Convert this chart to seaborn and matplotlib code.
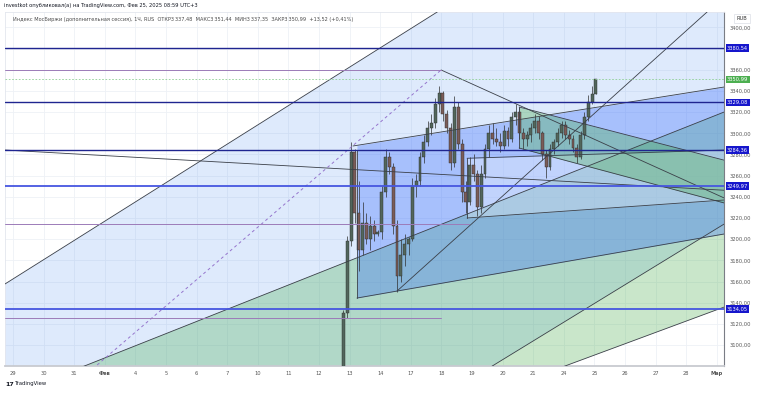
import numpy as np
import pandas as pd
import matplotlib
matplotlib.use("Agg")
import matplotlib.pyplot as plt
import matplotlib.transforms as mtransforms
import seaborn as sns

# ---------------------------
# Data
# ---------------------------
day_labels = ["29", "30", "31", "Фев", "4", "5", "6", "7", "10", "11", "12", "13",
              "14", "17", "18", "19", "20", "21", "24", "25", "26", "27", "28", "Мар"]

# bars every 3 hours-ish, time in trading-day index (0 = Jan 29)
bar_start = 10.8
bar_step = 0.125
bar_open = [3075, 3130, 3198, 3282, 3225, 3190, 3215, 3200, 3212, 3205,
            3207, 3245, 3278, 3268, 3212, 3165, 3185, 3195, 3200, 3250,
            3255, 3278, 3292, 3305, 3310, 3328, 3338, 3318, 3305, 3272,
            3325, 3290, 3245, 3235, 3270, 3262, 3230, 3262, 3285, 3300,
            3295, 3292, 3288, 3302, 3295, 3315, 3320, 3300, 3295, 3298,
            3305, 3312, 3300, 3280, 3268, 3285, 3292, 3300, 3308, 3298,
            3295, 3286, 3278, 3298, 3315, 3330, 3337.48]
bar_high = [3133, 3203, 3292, 3285, 3255, 3235, 3225, 3222, 3218, 3209,
            3250, 3285, 3282, 3272, 3218, 3200, 3205, 3202, 3258, 3262,
            3282, 3298, 3312, 3318, 3333, 3345, 3340, 3322, 3310, 3335,
            3330, 3295, 3255, 3278, 3280, 3265, 3270, 3290, 3308, 3310,
            3305, 3300, 3308, 3306, 3320, 3328, 3325, 3305, 3302, 3310,
            3318, 3316, 3302, 3284, 3290, 3295, 3305, 3312, 3312, 3303,
            3298, 3290, 3302, 3320, 3336, 3345, 3351.44]
bar_low = [3062, 3126, 3194, 3215, 3170, 3185, 3195, 3190, 3198, 3203,
           3200, 3240, 3262, 3205, 3150, 3160, 3175, 3185, 3198, 3240,
           3250, 3272, 3288, 3298, 3305, 3320, 3312, 3300, 3265, 3268,
           3285, 3235, 3225, 3232, 3255, 3222, 3225, 3258, 3278, 3290,
           3288, 3282, 3285, 3288, 3292, 3308, 3295, 3285, 3288, 3292,
           3300, 3295, 3275, 3258, 3265, 3280, 3288, 3296, 3295, 3290,
           3282, 3272, 3276, 3295, 3312, 3328, 3337.35]
bar_close = [3130, 3198, 3282, 3225, 3190, 3215, 3200, 3212, 3205, 3207,
             3245, 3278, 3268, 3212, 3165, 3185, 3195, 3200, 3250, 3255,
             3278, 3292, 3305, 3310, 3328, 3338, 3318, 3305, 3272, 3325,
             3290, 3245, 3235, 3270, 3262, 3230, 3262, 3285, 3300, 3295,
             3292, 3288, 3302, 3295, 3315, 3320, 3300, 3295, 3298, 3305,
             3312, 3300, 3280, 3268, 3285, 3292, 3300, 3308, 3298, 3295,
             3286, 3278, 3298, 3315, 3330, 3337.48, 3350.99]

level_prices = [3380.54, 3329.08, 3284.36, 3249.97, 3134.05]
level_bright = [False, False, False, True, True]
last_price = 3350.99
thin_levels = [3359.76, 3214.32, 3125.55]
thin_level_end = [13.99, 14.9, 13.99]

# drawing anchors: (trading-day index, price)
fan_top = [(-0.26, 3157.7), (13.86, 3414.5)]
fan_mid = [(2.42, 3081.2), (23.24, 3320.1)]
fan_low1 = [(15.82, 3083.0), (23.24, 3214.3)]
fan_low2 = [(18.30, 3083.0), (23.24, 3135.9)]
dashed_line = [(2.75, 3081.2), (13.99, 3359.8)]
low_ray = [(12.55, 3151.0), (22.68, 3414.5)]
long_line = [(-0.26, 3284.2), (23.24, 3246.2)]
pf_top = [(11.11, 3288.0), (23.24, 3343.7)]
pf_bottom = [(11.24, 3144.4), (23.24, 3204.9)]
pf_start = 11.24
box_top = [(14.84, 3276.4), (23.24, 3284.2)]
box_bottom = [(14.84, 3220.0), (23.24, 3237.0)]
box_start = 14.84
ch_top = [(16.54, 3324.8), (23.24, 3274.6)]
ch_bottom = [(16.54, 3286.1), (23.24, 3234.2)]
ch_start = 16.54
peak_line = [(13.99, 3359.8), (23.24, 3238.9)]

# 3380 is hidden under the 3380,54 label on the original
price_ticks = [p for p in range(3100, 3401, 20) if p != 3380]

XMIN, XMAX = -0.261, 23.235
YMIN, YMAX = 3080.22, 3414.54


def at(line, t):
    (t0, p0), (t1, p1) = line
    return p0 + (p1 - p0) * (np.asarray(t) - t0) / (t1 - t0)


def fmt(v):
    return f"{v:.2f}".replace(".", ",")


sns.set_theme(style="white")
plt.rcParams["font.family"] = ["DejaVu Sans"]

fig = plt.figure(figsize=(7.58, 3.94), dpi=100)
ax = fig.add_axes([5 / 758, 28 / 394, 719 / 758, 354 / 394])
ax.set_xlim(XMIN, XMAX)
ax.set_ylim(YMIN, YMAX)

# grid
for i in range(len(day_labels)):
    ax.axvline(i, color="#eef1f6", lw=0.6, zorder=0)
for p in range(3100, 3401, 20):
    ax.axhline(p, color="#eef1f6", lw=0.6, zorder=0)

full = np.array([XMIN, XMAX])
# big channels
ax.fill_between(full, at(fan_top, full), at(fan_low1, full),
                color="#4a8cf0", alpha=0.18, lw=0, zorder=1)
ax.fill_between(full, at(fan_mid, full), at(fan_low2, full),
                color="#4caf50", alpha=0.30, lw=0, zorder=1)
# pitchfork from Feb 13
tt = np.array([pf_start, XMAX])
ax.fill_between(tt, at(pf_top, tt), at(pf_bottom, tt),
                color="#2962ff", alpha=0.30, lw=0, zorder=1.1)
tt = np.array([box_start, XMAX])
ax.fill_between(tt, at(box_top, tt), at(box_bottom, tt),
                color="white", alpha=0.30, lw=0, zorder=1.2)
tt = np.array([ch_start, XMAX])
ax.fill_between(tt, at(ch_top, tt), at(ch_bottom, tt),
                color="#4caf50", alpha=0.35, lw=0, zorder=1.3)

line_kw = dict(color="#3a3f48", lw=0.6, zorder=4)
for ln in [fan_top, fan_mid, fan_low1, fan_low2, long_line]:
    ax.plot(full, at(ln, full), **line_kw)
for ln in [low_ray, peak_line]:
    tt = np.array([ln[0][0], XMAX])
    ax.plot(tt, at(ln, tt), **line_kw)
for ln, start in [(pf_top, pf_top[0][0]), (pf_bottom, pf_start),
                  (box_top, box_start), (box_bottom, box_start),
                  (ch_top, ch_start), (ch_bottom, ch_start)]:
    tt = np.array([start, XMAX])
    ax.plot(tt, at(ln, tt), **line_kw)
ax.plot([pf_start, pf_start], [at(pf_top, pf_start) - 4, at(pf_bottom, pf_start)], **line_kw)
ax.plot([box_start, box_start], [at(box_bottom, box_start), at(box_top, box_start)], **line_kw)
ax.plot([ch_start, ch_start], [at(ch_bottom, ch_start), at(ch_top, ch_start)], **line_kw)

dash_df = pd.DataFrame({"t": [p[0] for p in dashed_line], "p": [p[1] for p in dashed_line]})
sns.lineplot(data=dash_df, x="t", y="p", ax=ax, color="#9575cd", lw=0.7,
             linestyle=(0, (3, 3)), zorder=4)

for lvl, end in zip(thin_levels, thin_level_end):
    ax.plot([XMIN, end], [lvl, lvl], color="#9c7bb8", lw=0.7, zorder=4)

ax.axhline(last_price, color="#8fcf93", lw=0.6, ls=(0, (2, 2)), zorder=4)

for lvl, bright in zip(level_prices, level_bright):
    ax.axhline(lvl, color="#4656e0" if bright else "#1f2590",
               lw=1.3 if bright else 1.0, zorder=4.5)

# candles
o = np.array(bar_open)
h = np.array(bar_high)
lo = np.array(bar_low)
c = np.array(bar_close)
tb = bar_start + bar_step * np.arange(len(c))
up = c >= o
body_col = np.where(up, "#52665c", "#7a5c58")
ax.vlines(tb, lo, h, color="#2e2e2e", lw=0.5, zorder=3)
ax.bar(tb, np.maximum(np.abs(c - o), 0.6), bottom=np.minimum(o, c), width=0.095,
       color=body_col, edgecolor="#2b2b2b", linewidth=0.3, zorder=3.2)

# axes cosmetics
ax.set_xticks(range(len(day_labels)))
ax.set_xticklabels(day_labels)
for lab in ax.get_xticklabels():
    if lab.get_text() in ("Фев", "Мар"):
        lab.set_fontweight("bold")
ax.tick_params(axis="x", length=0, pad=3.5, labelsize=3.7, labelcolor="#555555")
ax.yaxis.tick_right()
ax.set_yticks(price_ticks)
ax.set_yticklabels([fmt(p) for p in price_ticks])
ax.tick_params(axis="y", length=0, pad=4, labelsize=3.7, labelcolor="#555555")
ax.set_xlabel("")
ax.set_ylabel("")
for side in ("top", "left"):
    ax.spines[side].set_color("#e3e6ee")
    ax.spines[side].set_linewidth(0.6)
ax.spines["bottom"].set_color("#c8cad0")
ax.spines["bottom"].set_linewidth(1.3)
ax.spines["right"].set_color("#7a7d85")
ax.spines["right"].set_linewidth(0.8)

trans = mtransforms.blended_transform_factory(ax.transAxes, ax.transData)
for lvl in level_prices:
    ax.text(1.004, lvl, fmt(lvl), transform=trans, ha="left", va="center",
            fontsize=3.7, color="white", clip_on=False, zorder=10,
            bbox=dict(boxstyle="square,pad=0.25", fc="#1616cc", ec="none"))
ax.text(1.004, last_price, fmt(last_price), transform=trans, ha="left", va="center",
        fontsize=3.7, color="white", clip_on=False, zorder=10,
        bbox=dict(boxstyle="square,pad=0.25", fc="#4caf50", ec="none"))

fig.text(742 / 758, 1 - 18.5 / 394, "RUB", ha="center", va="center", fontsize=3.7,
         color="#333333", zorder=20,
         bbox=dict(boxstyle="square,pad=0.45", fc="white", ec="#dcdfe6", lw=0.5))

fig.text(4 / 758, 1 - 6 / 394,
         "investkot опубликовал(а) на TradingView.com, Фев 25, 2025 08:59 UTC+3",
         ha="left", va="center", fontsize=3.7, color="#131722")
ax.text(8 / 719, 1 - 7 / 354,
        "Индекс МосБиржи (дополнительная сессия), 1Ч, RUS  ОТКР3\u2009337,48  "
        "МАКС3\u2009351,44  МИН3\u2009337,35  ЗАКР3\u2009350,99  +13,52 (+0,41%)",
        transform=ax.transAxes, ha="left", va="center", fontsize=3.65,
        color="#4a4a4a", zorder=10)
fig.text(5 / 758, 1 - 384 / 394, "17", ha="left", va="center", fontsize=4.5,
         fontweight="bold", color="#131722")
fig.text(15 / 758, 1 - 384 / 394, "TradingView", ha="left", va="center",
         fontsize=3.8, color="#131722")

fig.savefig("out.png", dpi=100)
